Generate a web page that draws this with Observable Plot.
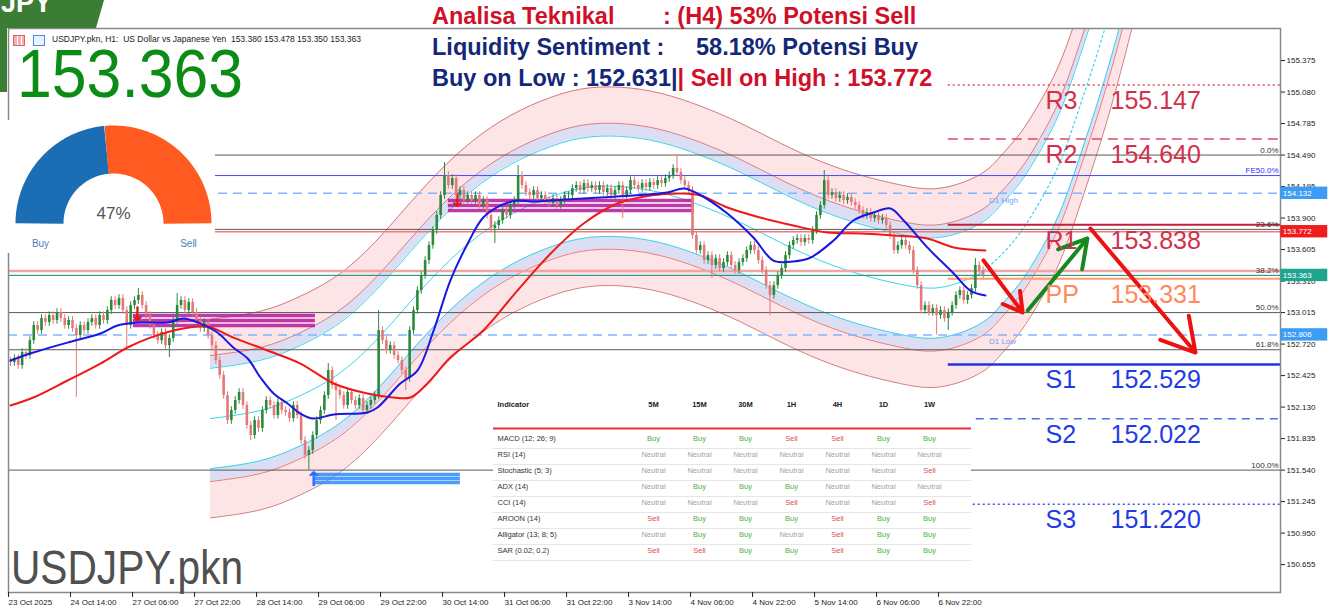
<!DOCTYPE html>
<html><head><meta charset="utf-8">
<script src="https://cdn.jsdelivr.net/npm/d3@7"></script>
<script src="https://cdn.jsdelivr.net/npm/@observablehq/plot@0.6"></script>
<style>
html,body{margin:0;padding:0;background:#fff;overflow:hidden;}
#wrap{position:relative;width:1333px;height:612px;font-family:"Liberation Sans",Arial,sans-serif;overflow:hidden;}
#wrap > *{position:absolute;}
.t{white-space:pre;font-weight:bold;font-size:23.5px;line-height:1;}
</style></head><body><div id="wrap"></div>
<script>
// ---------------- DATA ----------------
const firstOpen = 152.560;
const closes = [
152.547,152.585,152.519,152.641,152.613,152.753,152.894,152.847,152.959,152.922,
152.987,152.941,153.016,152.959,152.894,152.941,152.866,152.800,152.894,152.847,
152.922,152.959,152.894,152.987,152.941,153.034,153.128,153.081,153.147,153.034,
152.894,153.081,153.128,153.175,153.081,152.987,152.894,152.800,152.753,152.828,
152.706,152.772,152.941,153.081,153.128,153.034,153.109,153.016,152.941,152.866,
152.922,152.800,152.706,152.566,152.426,152.238,152.004,152.098,152.192,152.267,
152.145,151.958,151.864,152.004,151.930,152.098,152.192,152.145,152.051,152.173,
152.098,152.079,152.023,152.145,152.051,151.817,151.677,151.723,151.864,152.004,
152.098,152.238,152.472,152.332,152.285,152.238,152.145,152.267,152.192,152.145,
152.210,152.098,152.145,152.192,152.238,152.847,152.753,152.660,152.706,152.613,
152.566,152.472,152.398,152.847,153.034,153.221,153.362,153.502,153.643,153.783,
153.924,154.111,154.298,154.205,154.270,154.111,154.158,154.064,154.111,154.064,
154.111,154.018,154.064,153.924,153.802,153.830,153.877,153.971,153.924,154.018,
154.064,154.298,154.205,154.139,154.111,154.158,154.083,154.111,154.064,154.036,
154.083,154.018,154.064,154.111,154.111,154.177,154.205,154.158,154.223,154.177,
154.205,154.158,154.205,154.139,154.177,154.111,154.158,154.205,154.111,154.158,
154.251,154.205,154.177,154.223,154.186,154.233,154.205,154.251,154.223,154.270,
154.298,154.364,154.327,154.251,154.205,154.158,153.737,153.596,153.643,153.502,
153.549,153.456,153.521,153.428,153.484,153.549,153.456,153.409,153.484,153.521,
153.596,153.643,153.596,153.502,153.409,153.268,153.175,153.268,153.362,153.428,
153.549,153.643,153.690,153.709,153.671,153.709,153.690,153.783,153.924,154.018,
154.251,154.111,154.139,154.083,154.111,154.064,154.093,154.046,154.018,153.971,
153.924,153.952,153.896,153.924,153.877,153.896,153.830,153.737,153.596,153.643,
153.690,153.643,153.596,153.409,153.268,153.034,153.081,153.016,153.053,152.987,
153.034,152.959,153.016,153.081,153.175,153.221,153.128,153.175,153.240,153.456,
153.409,153.363];
const wickDefault = 0.035;
const highWicks = {33:153.240,43:153.194,82:152.538,95:153.034,112:154.420,131:154.392,172:154.490,210:154.345,249:153.521};
const lowWicks = {17:152.220,30:152.660,41:152.594,62:151.817,77:151.540,84:152.004,102:152.285,125:153.662,158:153.896,181:153.334,196:152.987,239:152.806,242:152.847};

// moving averages [bar index, price]
const maFast = [[0,152.566],[5.9,152.641],[14.7,152.734],[23.2,152.819],[27.6,152.894],[33.5,152.922],[40.5,152.922],[44.6,152.959],[49,152.912],[53.4,152.828],[57.5,152.688],[61.2,152.585],[64.5,152.407],[67.9,152.257],[71.5,152.164],[74.8,152.070],[78.2,152.023],[83.4,152.061],[92.1,152.079],[94.7,152.126],[100.6,152.351],[105,152.472],[109.2,152.847],[113.5,153.315],[118,153.662],[122,153.905],[126.5,154.018],[130.8,154.064],[135,154.055],[139.4,154.064],[152.3,154.093],[160.8,154.111],[169.5,154.139],[173.7,154.177],[177.3,154.130],[185,153.943],[191.7,153.718],[196.9,153.502],[202,153.493],[206.5,153.531],[212.4,153.690],[217.5,153.877],[222.7,153.952],[227.1,153.990],[230.5,153.877],[236.6,153.625],[243.4,153.381],[247.7,153.221],[251.6,153.175]];
const maSlow = [[0,152.145],[5.9,152.220],[14.7,152.379],[23.2,152.538],[30.2,152.688],[36.1,152.781],[44.6,152.866],[50.8,152.884],[57.5,152.781],[66.3,152.660],[74.8,152.538],[83.4,152.351],[92.1,152.257],[98.8,152.220],[103.2,152.220],[107.6,152.351],[113.5,152.594],[122,152.847],[130.8,153.221],[139.4,153.568],[147.9,153.849],[156.6,154.036],[165.2,154.111],[173.7,154.130],[178.1,154.111],[185,153.999],[193.5,153.905],[202,153.830],[210.8,153.765],[219.4,153.756],[227.9,153.737],[236.6,153.709],[243.4,153.625],[251.6,153.596]];

// regression channel centre [bar index, price] and band offsets (price)
const channelCenter = [[51.6,152.023],[64.5,152.098],[74.8,152.238],[85.2,152.454],[95.5,152.800],[105.8,153.221],[116.1,153.596],[126.5,153.877],[136.8,154.064],[147.1,154.177],[157.4,154.195],[167.7,154.139],[178.1,154.018],[188.4,153.858],[198.7,153.671],[209,153.502],[219.4,153.372],[229.7,153.280],[240,153.250],[250.3,153.380],[255.5,153.549],[260.6,153.765],[265.8,154.064],[271,154.440],[276.1,154.960],[281.3,155.540],[286.5,156.200],[291.6,156.930]];
const bandInner = 0.47, bandMid = 0.59, bandOuter = 0.93;
const lastBar = 251;

// levels
const fibLevels = [{p:154.490,l:"0.0%"},{p:153.794,l:"23.6%"},{p:153.363,l:"38.2%"},{p:153.015,l:"50.0%"},{p:152.667,l:"61.8%"},{p:151.540,l:"100.0%"}];
const feLevel = {p:154.298,l:"FE50.0%"};
const d1High = 154.132, d1Low = 152.806;
const sellOnHigh = 153.772, lastPrice = 153.363, fib382Zone = 153.405;
const pivotStart = 242;
const pivots = [
 {name:"R3",price:155.147,color:"#d2304a",dash:"2,3",w:1.5,line:"#e04a60"},
 {name:"R2",price:154.640,color:"#d2304a",dash:"10,6",w:1.5,line:"#e04a60"},
 {name:"R1",price:153.838,color:"#d2304a",dash:null,w:2,line:"#c61d3a"},
 {name:"PP",price:153.331,color:"#ff8a5c",dash:null,w:2,line:"#ff9a6a"},
 {name:"S1",price:152.529,color:"#1e3ce6",dash:null,w:2.5,line:"#2233e0"},
 {name:"S2",price:152.022,color:"#1e3ce6",dash:"8,6",w:1.5,line:"#4a6cf0"},
 {name:"S3",price:151.220,color:"#1e3ce6",dash:"2,3",w:1.5,line:"#3a50f0"}];
const priceTags = [{p:154.132,c:"#3d9df5"},{p:153.772,c:"#f01c1c"},{p:153.363,c:"#1fa58f"},{p:152.806,c:"#3d9df5"}];
const zones = [
 {i1:113,i2:176.5,ps:[154.064,154.018,153.971],c:"#b3179c"},
 {i1:31.7,i2:78.7,ps:[152.987,152.941,152.894],c:"#b3179c"},
 {i1:78.2,i2:116.1,ps:[151.499,151.462,151.424],c:"#2a8cff"}];
const zoneArrows = [{i:32.8,p:153.0,s:"↓",c:"#e01818"},{i:115.4,p:154.06,s:"↓",c:"#e01818"},{i:78.2,p:151.45,s:"↑",c:"#1e70ff"}];
const arrows = [
 {x1:251.1,y1:153.503,x2:261.2,y2:153.016,c:"#ee1111"},
 {x1:262.5,y1:153.034,x2:277.9,y2:153.709,c:"#168a1c"},
 {x1:278.7,y1:153.802,x2:305.8,y2:152.641,c:"#ee1111"}];
const yTicks = [155.375,155.080,154.785,154.490,154.195,153.900,153.605,153.310,153.015,152.720,152.425,152.130,151.835,151.540,151.245,150.950,150.655];
const xTickBars = [-0.5,15.5,31.5,47.5,63.5,79.5,95.5,111.5,127.5,143.5,159.5,175.5,191.5,207.5,223.5,239.5];
const xLabels = ["23 Oct 2025","24 Oct 14:00","27 Oct 06:00","27 Oct 22:00","28 Oct 14:00","29 Oct 06:00","29 Oct 22:00","30 Oct 14:00","31 Oct 06:00","31 Oct 22:00","3 Nov 14:00","4 Nov 06:00","4 Nov 22:00","5 Nov 14:00","6 Nov 06:00","6 Nov 22:00"];

// table
const timeframes = ["5M","15M","30M","1H","4H","1D","1W"];
const indicators = ["MACD (12; 26; 9)","RSI (14)","Stochastic (5; 3)","ADX (14)","CCI (14)","AROON (14)","Alligator (13; 8; 5)","SAR (0.02; 0.2)"];
const signals = [
 ["Buy","Buy","Buy","Sell","Sell","Buy","Buy"],
 ["Neutral","Neutral","Neutral","Neutral","Neutral","Neutral","Neutral"],
 ["Neutral","Neutral","Neutral","Neutral","Neutral","Neutral","Sell"],
 ["Neutral","Buy","Buy","Buy","Neutral","Neutral","Neutral"],
 ["Neutral","Neutral","Neutral","Sell","Neutral","Neutral","Sell"],
 ["Sell","Buy","Buy","Buy","Sell","Buy","Buy"],
 ["Neutral","Buy","Buy","Neutral","Sell","Buy","Buy"],
 ["Sell","Sell","Buy","Buy","Sell","Buy","Buy"]];
const buyPct = 47;

// ---------------- BUILD ----------------
const wrap = document.getElementById("wrap");
const FONT = "Liberation Sans, Arial, sans-serif";
const xDomain = [-0.516, 327.74], yDomain = [150.394, 155.675];

const candles = closes.map((c,i)=>{
  const o = i ? closes[i-1] : firstOpen;
  const high = highWicks[i] ?? Math.max(o,c)+wickDefault;
  const low = lowWicks[i] ?? Math.min(o,c)-wickDefault;
  return {i, open:o, close:c, high, low, up: c>=o};
});
const chan = channelCenter.map(([i,p])=>({i,p}));
const upC = "#2a8a3c", dnC = "#e47878";

const bandArea = (a,b,fill)=>Plot.areaY(chan,{x:"i",y1:d=>d.p+a,y2:d=>d.p+b,fill,curve:"natural",clip:true});
const bandLine = (off,stroke,w)=>Plot.line(chan,{x:"i",y:d=>d.p+off,stroke,strokeWidth:w,curve:"natural",clip:true});
const labelOf = new Map(xTickBars.map((b,k)=>[b,xLabels[k]]));
const xEnd = xDomain[1];

const zoneRows = zones.flatMap(z=>z.ps.map(p=>({i1:z.i1,i2:z.i2,p,c:z.c})));

const chart = Plot.plot({
  width:1333, height:612, marginLeft:8, marginRight:53, marginTop:28, marginBottom:20,
  x:{domain:xDomain}, y:{domain:yDomain},
  style:{background:"white", fontFamily:FONT, fontSize:"8px", color:"#222"},
  marks:[
    bandArea(bandMid,bandOuter,"#fde4e7"), bandArea(-bandOuter,-bandMid,"#fde4e7"),
    bandArea(bandInner,bandMid,"#dcdff4"), bandArea(-bandMid,-bandInner,"#dcdff4"),
    bandLine(bandOuter,"#cf7d7d",1), bandLine(-bandOuter,"#cf7d7d",1),
    bandLine(bandMid,"#e86060",0.8), bandLine(-bandMid,"#e86060",0.8),
    bandLine(bandInner,"#35d6ec",1), bandLine(-bandInner,"#35d6ec",1),
    Plot.line(chan.filter(d=>d.i<=lastBar),{x:"i",y:"p",stroke:"#35d6ec",strokeWidth:1,curve:"natural",clip:true}),
    Plot.line(chan.filter(d=>d.i>=250),{x:"i",y:"p",stroke:"#35d6ec",strokeWidth:1.2,strokeDasharray:"2,3",curve:"natural",clip:true}),
    // horizontal levels
    Plot.ruleY(fibLevels,{y:"p",stroke:"#5a5a5a",strokeWidth:1}),
    Plot.ruleY([fib382Zone],{stroke:"#f4a3a3",strokeWidth:2.5}),
    Plot.ruleY([lastPrice],{stroke:"#1fa58f",strokeWidth:1}),
    Plot.ruleY([sellOnHigh],{stroke:"#f07a7a",strokeWidth:1.5}),
    Plot.ruleY([feLevel.p],{stroke:"#4848ff",strokeWidth:1}),
    Plot.ruleY([d1High,d1Low],{stroke:"#80b4ff",strokeWidth:1.5,strokeDasharray:"9,6"}),
    ...pivots.map(pv=>Plot.ruleY([pv],{y:"price",x1:pivotStart,x2:xEnd,stroke:pv.line,strokeWidth:pv.w,strokeDasharray:pv.dash})),
    // zones
    Plot.ruleY(zoneRows,{y:"p",x1:"i1",x2:"i2",stroke:d=>d.c,strokeWidth:3.5,strokeOpacity:0.85}),
    Plot.text(zoneArrows,{x:"i",y:"p",text:"s",fill:d=>d.c,fontSize:20,fontWeight:"bold",fontFamily:"DejaVu Sans"}),
    // candles
    Plot.ruleX(candles,{x:"i",y1:"low",y2:"high",stroke:d=>d.up?upC:dnC,strokeWidth:1}),
    Plot.ruleX(candles,{x:"i",y1:"open",y2:"close",stroke:d=>d.up?upC:dnC,strokeWidth:2.6}),
    // moving averages
    Plot.line(maSlow,{x:d=>d[0],y:d=>d[1],stroke:"#f01818",strokeWidth:2,curve:"catmull-rom"}),
    Plot.line(maFast,{x:d=>d[0],y:d=>d[1],stroke:"#1818e0",strokeWidth:2,curve:"catmull-rom"}),
    // arrows
    Plot.arrow(arrows,{x1:"x1",y1:"y1",x2:"x2",y2:"y2",stroke:d=>d.c,strokeWidth:4,headLength:14}),
    // labels
    Plot.text(fibLevels,{y:"p",text:"l",frameAnchor:"right",dx:-2,dy:-5,textAnchor:"end",fill:"#333",fontSize:8}),
    Plot.text([feLevel],{y:"p",text:"l",frameAnchor:"right",dx:-2,dy:-5,textAnchor:"end",fill:"#3030ff",fontSize:8}),
    Plot.text([{p:d1High,t:"D1 High"},{p:d1Low,t:"D1 Low"}],{x:lastBar+1.5,y:"p",text:"t",dy:7,textAnchor:"start",fill:"#6fa6f0",fontSize:8}),
    Plot.text(pivots,{y:"price",text:"name",frameAnchor:"right",dx:-235,dy:16,textAnchor:"start",fill:d=>d.color,fontSize:25}),
    Plot.text(pivots,{y:"price",text:d=>d.price.toFixed(3),frameAnchor:"right",dx:-170,dy:16,textAnchor:"start",fill:d=>d.color,fontSize:25}),
    Plot.frame({stroke:"#888",strokeWidth:1.5}),
    // axes
    Plot.axisY(yTicks,{anchor:"right",tickFormat:d3.format(".3f"),tickSize:4,tickPadding:2,fontSize:8}),
    Plot.axisX(xTickBars,{anchor:"bottom",tickFormat:d=>labelOf.get(d),tickSize:5,tickPadding:2,textAnchor:"start",fontSize:8}),
    // price tags on axis
    Plot.rect(priceTags,{x1:xEnd+0.1,x2:xEnd+12.2,y1:d=>d.p-0.058,y2:d=>d.p+0.058,fill:d=>d.c,clip:false}),
    Plot.text(priceTags,{x:xEnd+0.6,y:"p",text:d=>d.p.toFixed(3),textAnchor:"start",fill:"white",fontSize:8})
  ]
});
chart.style.left="0px"; chart.style.top="0px";
wrap.appendChild(chart);

// table
const cells = indicators.flatMap((n,r)=>timeframes.map((tf,c)=>({n,tf,s:signals[r][c]})));
const sigColor = {Buy:"#4cae4c",Sell:"#d9534f",Neutral:"#a3a3a3"};
const table = Plot.plot({
  width:478, height:178, margin:0,
  x:{type:"point",domain:timeframes,range:[135,460],axis:null},
  y:{type:"point",domain:indicators,range:[32,166],axis:null},
  style:{background:"white",fontFamily:FONT,fontSize:"7.5px"},
  marks:[
    Plot.ruleY(indicators,{y:d=>d,dy:10,stroke:"#e6e6e6"}),
    Plot.ruleY([indicators[0]],{dy:-10,stroke:"#e8303c",strokeWidth:2}),
    Plot.text(["Indicator"],{frameAnchor:"top-left",dx:4,dy:9,lineAnchor:"middle",textAnchor:"start",fontWeight:"bold",fill:"#222"}),
    Plot.text(timeframes,{x:d=>d,text:d=>d,frameAnchor:"top",dy:9,lineAnchor:"middle",fontWeight:"bold",fill:"#222"}),
    Plot.text(indicators,{y:d=>d,text:d=>d,frameAnchor:"left",dx:4,textAnchor:"start",fill:"#333"}),
    Plot.text(cells,{x:"tf",y:"n",text:"s",fill:d=>sigColor[d.s]})
  ]
});
table.style.left="493px"; table.style.top="395px";
wrap.appendChild(table);

// gauge
const gaugeR = 74;
const split = 180 - buyPct/100*180;
const arc = (a0,a1)=>d3.range(0,91).map(k=>{const a=(a0+(a1-a0)*k/90)*Math.PI/180;return [gaugeR*Math.cos(a),gaugeR*Math.sin(a)];});
const gauge = Plot.plot({
  width:210, height:133, margin:0,
  x:{domain:[-108,102],axis:null}, y:{domain:[-30,103],axis:null},
  style:{background:"white",fontFamily:FONT},
  marks:[
    Plot.line(arc(180,split),{x:d=>d[0],y:d=>d[1],stroke:"#1b6db4",strokeWidth:48,strokeLinecap:"butt",strokeLinejoin:"round"}),
    Plot.line(arc(split,0),{x:d=>d[0],y:d=>d[1],stroke:"#ff5a1f",strokeWidth:48,strokeLinecap:"butt",strokeLinejoin:"round"}),
    Plot.text([`${buyPct}%`],{x:()=>0,y:()=>10,text:d=>d,fontSize:17,fill:"#555"}),
    Plot.text(["Buy","Sell"],{x:(d,i)=>i?75:-73,y:()=>-20,text:d=>d,fontSize:10,fill:"#4a7fc0"})
  ]
});
gauge.style.left="5px"; gauge.style.top="120px";
wrap.appendChild(gauge);

// html overlays
function add(html, css){const d=document.createElement("div");d.innerHTML=html;Object.assign(d.style,css);wrap.appendChild(d);return d;}
add("",{left:"0px",top:"0px",width:"104px",height:"92px",background:"#3b7d35",clipPath:"polygon(0 0,104px 0,96px 28px,7px 28px,7px 92px,0 92px)"});
add("JPY",{left:"1px",top:"-10px",fontSize:"27px",fontWeight:"bold",color:"#fff",fontFamily:FONT,lineHeight:"1"});
add("",{left:"13px",top:"35px",width:"10px",height:"9px",border:"1px solid #e06060",background:"repeating-linear-gradient(90deg,#f7b0b0 0 3px,#fff 3px 4px)"});
add("",{left:"33px",top:"35px",width:"10px",height:"9px",border:"1px solid #4a8ae0",background:"#eaf2ff"});
add("USDJPY.pkn, H1:  US Dollar vs Japanese Yen  153.380 153.478 153.350 153.363",{left:"52px",top:"35px",fontSize:"8.5px",color:"#222",whiteSpace:"pre",fontFamily:FONT,lineHeight:"1"});
add("153.363",{left:"17px",top:"46px",fontSize:"68px",color:"#0c8c16",fontFamily:FONT,lineHeight:"0.8",transform:"scaleX(0.92)",transformOrigin:"0 0"});
add("USDJPY.pkn",{left:"11px",top:"543px",fontSize:"49px",color:"#505050",fontFamily:FONT,lineHeight:"1",transform:"scaleX(0.83)",transformOrigin:"0 0"});
const red="#d01028", navy="#142878";
add("Analisa Teknikal",{left:"432px",top:"5px",color:red}).className="t";
add(": (H4) 53% Potensi Sell",{left:"663px",top:"5px",color:red}).className="t";
add("Liquidity Sentiment :",{left:"432px",top:"36px",color:navy}).className="t";
add("58.18% Potensi Buy",{left:"696px",top:"36px",color:navy}).className="t";
add(`<span style="color:${navy}">Buy on Low : 152.631|</span><span style="color:${red}">| Sell on High : 153.772</span>`,{left:"432px",top:"67px"}).className="t";
</script></body></html>
